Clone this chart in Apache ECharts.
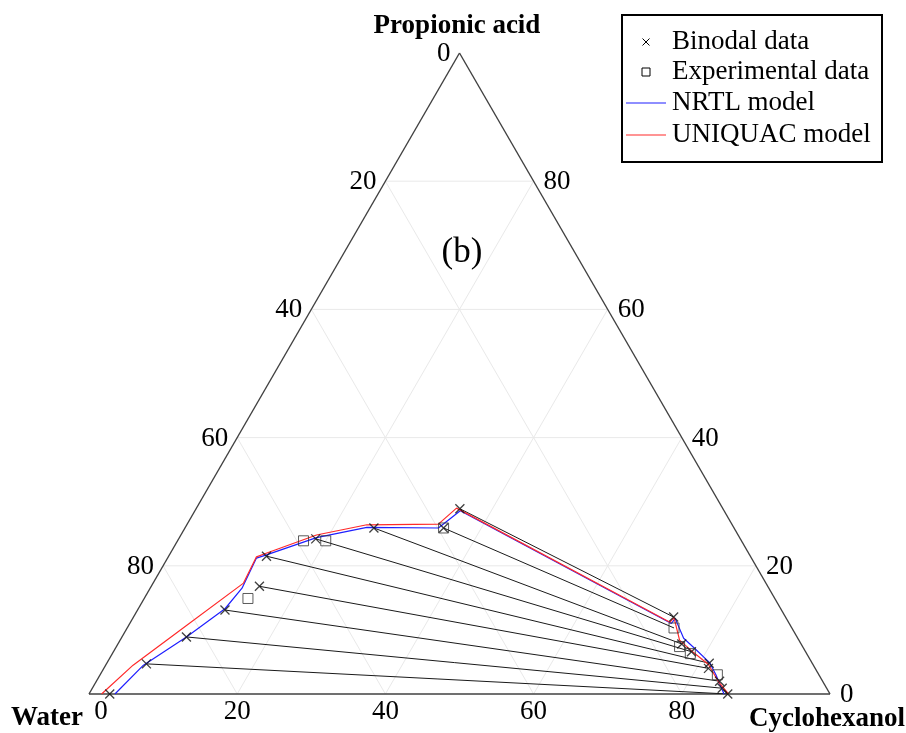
<!DOCTYPE html>
<html>
<head>
<meta charset="utf-8">
<script src="https://cdn.jsdelivr.net/npm/echarts@6/dist/echarts.min.js"></script>
<style>
html,body{margin:0;padding:0;background:#fff;}
#chart{width:906px;height:733px;}
</style>
</head>
<body>
<div id="chart"></div>
<script>
// Compositions in mass %: cyclohexanol, propionic acid (water = 100 - both)
const tickValues = [0, 20, 40, 60, 80];
const gridValues = [20, 40, 60, 80];

const binodalCyclohexanol = [2.8, 5.4, 8.7, 11.8, 14.6, 13.2, 18.5, 25.5, 34.9, 35.6, 72.9, 76.1, 78.0, 81.3, 81.6, 84.1, 85.0, 86.2];
const binodalPropionic    = [0.0, 4.7, 8.9, 13.1, 16.8, 21.5, 24.2, 25.9, 25.9, 28.9, 12.0, 7.8, 6.6, 4.8, 4.0, 2.0, 0.9, 0.0];

const expCyclohexanol = [14.0, 17.0, 20.0, 34.9, 73.8, 76.0, 78.0, 83.3];
const expPropionic    = [14.9, 23.9, 23.9, 25.9, 10.3, 7.4, 6.3, 3.0];

const tieRaffinateCyclohexanol = [35.6, 34.9, 25.5, 18.5, 13.2, 14.6, 11.8, 8.7, 5.4];
const tieRaffinatePropionic    = [28.9, 25.9, 25.9, 24.2, 21.5, 16.8, 13.1, 8.9, 4.7];
const tieExtractCyclohexanol   = [72.9, 73.8, 76.1, 78.0, 81.3, 81.6, 84.1, 85.0, 86.2];
const tieExtractPropionic      = [12.0, 10.3, 7.8, 6.6, 4.8, 4.0, 2.0, 0.9, 0.0];

const nrtlCyclohexanol = [3.5, 5.1, 8.7, 11.7, 12.4, 12.0, 13.1, 18.5, 24.5, 34.2, 35.8, 73.1, 73.2, 75.9, 78.2, 81.3, 83.1, 85.7];
const nrtlPropionic    = [0.0, 4.5, 8.9, 13.3, 16.5, 21.2, 21.7, 24.4, 26.0, 25.9, 28.6, 11.0, 11.8, 8.7, 7.1, 4.9, 3.0, 0.0];

const uniquacCyclohexanol = [1.7, 3.7, 7.3, 12.2, 11.9, 13.0, 18.3, 24.3, 33.9, 35.1, 72.8, 73.0, 75.5, 78.3, 81.3, 84.0, 86.3];
const uniquacPropionic    = [0.0, 4.5, 9.9, 17.3, 21.4, 22.0, 24.8, 26.4, 26.5, 29.0, 11.2, 11.9, 8.4, 6.5, 4.6, 1.9, 0.0];

const seriesNames = ['Binodal data', 'Experimental data', 'NRTL model', 'UNIQUAC model'];
const cornerNames = ['Propionic acid', 'Water', 'Cyclohexanol'];
const panelLabel = '(b)';

// ternary (cyclohexanol, propionic) -> cartesian data coordinates
const S = Math.sqrt(3) / 2;
function toXY(c, p) { return [c + p / 2, p * S]; }
function pairs(cs, ps) { return cs.map((c, i) => toXY(c, ps[i])); }

const FONT = '"Liberation Serif", "Times New Roman", serif';
const CROSS = 'path://M0,0L10,10M10,0L0,10';
const NRTL_COLOR = '#1f1fff';
const UNIQUAC_COLOR = '#ff2a2a';

const chart = echarts.init(document.getElementById('chart'), null, { renderer: 'canvas' });

// tick label items: [axisIndex, value]; 0 = water (left), 1 = propionic (right), 2 = cyclohexanol (bottom)
const tickItems = [];
[0, 1, 2].forEach(a => tickValues.forEach(v => tickItems.push([a, v])));

// legend drawn as graphic (box, symbols, text)
const LEG = { x: 622, y: 15, w: 260, h: 147, iconX: 646, lineX1: 626, lineX2: 666, textX: 672, rows: [42, 72, 103, 135] };
const legendChildren = [
  { type: 'rect', shape: { x: LEG.x, y: LEG.y, width: LEG.w, height: LEG.h },
    style: { fill: '#fff', stroke: '#000', lineWidth: 2 } },
  { type: 'line', shape: { x1: LEG.iconX - 3.5, y1: LEG.rows[0] - 3.5, x2: LEG.iconX + 3.5, y2: LEG.rows[0] + 3.5 }, style: { stroke: '#000', lineWidth: 1 } },
  { type: 'line', shape: { x1: LEG.iconX - 3.5, y1: LEG.rows[0] + 3.5, x2: LEG.iconX + 3.5, y2: LEG.rows[0] - 3.5 }, style: { stroke: '#000', lineWidth: 1 } },
  { type: 'rect', shape: { x: LEG.iconX - 4, y: LEG.rows[1] - 4, width: 8, height: 8 }, style: { fill: 'none', stroke: '#000', lineWidth: 1 } },
  { type: 'line', shape: { x1: LEG.lineX1, y1: LEG.rows[2], x2: LEG.lineX2, y2: LEG.rows[2] }, style: { stroke: NRTL_COLOR, lineWidth: 1.2 } },
  { type: 'line', shape: { x1: LEG.lineX1, y1: LEG.rows[3], x2: LEG.lineX2, y2: LEG.rows[3] }, style: { stroke: UNIQUAC_COLOR, lineWidth: 1.2 } }
];
seriesNames.forEach((n, i) => legendChildren.push({
  type: 'text', x: LEG.textX, y: LEG.rows[i],
  style: { text: n, font: '27px ' + FONT, fill: '#000', align: 'left', verticalAlign: 'middle' }
}));

const option = {
  animation: false,
  backgroundColor: '#fff',
  grid: { left: 89, top: 53, width: 741, height: 641, containLabel: false, outerBoundsMode: 'none' },
  xAxis: { type: 'value', min: 0, max: 100, show: false },
  yAxis: { type: 'value', min: 0, max: 100 * S, show: false },
  graphic: [
    { type: 'group', silent: true, z: 10, children: legendChildren },
    { type: 'text', x: 457, y: 26, silent: true,
      style: { text: cornerNames[0], font: 'bold 27px ' + FONT, fill: '#000', align: 'center', verticalAlign: 'middle' } },
    { type: 'text', x: 47, y: 718, silent: true,
      style: { text: cornerNames[1], font: 'bold 27px ' + FONT, fill: '#000', align: 'center', verticalAlign: 'middle' } },
    { type: 'text', x: 905, y: 719, silent: true,
      style: { text: cornerNames[2], font: 'bold 27px ' + FONT, fill: '#000', align: 'right', verticalAlign: 'middle' } },
    { type: 'text', x: 462, y: 253, silent: true,
      style: { text: panelLabel, font: '35px ' + FONT, fill: '#000', align: 'center', verticalAlign: 'middle' } }
  ],
  series: [
    {
      type: 'custom', name: 'frame', silent: true, z: 1,
      data: [[0]],
      renderItem: function (params, api) {
        const children = [];
        function seg(c1, p1, c2, p2, color, w) {
          const a = api.coord(toXY(c1, p1)), b = api.coord(toXY(c2, p2));
          children.push({ type: 'line', shape: { x1: a[0], y1: a[1], x2: b[0], y2: b[1] },
            style: { stroke: color, lineWidth: w } });
        }
        gridValues.forEach(k => {
          seg(0, k, 100 - k, k, '#e9e9e9', 1);          // propionic = k
          seg(k, 0, k, 100 - k, '#e9e9e9', 1);          // cyclohexanol = k
          seg(100 - k, 0, 0, 100 - k, '#e9e9e9', 1);    // water = k
        });
        seg(0, 0, 100, 0, '#404040', 1.4);
        seg(100, 0, 0, 100, '#404040', 1.4);
        seg(0, 100, 0, 0, '#404040', 1.4);
        return { type: 'group', children: children };
      }
    },
    {
      type: 'custom', name: 'ticks', silent: true, z: 1,
      data: tickItems,
      renderItem: function (params, api) {
        const a = api.value(0), v = api.value(1);
        let pt, x, y, align;
        if (a === 0) { pt = api.coord(toXY(0, 100 - v)); x = pt[0] - 9; y = pt[1] + 1; align = 'right'; }
        else if (a === 1) { pt = api.coord(toXY(100 - v, v)); x = pt[0] + 10; y = pt[1] + 1; align = 'left'; }
        else { pt = api.coord(toXY(v, 0)); x = pt[0] + (v === 0 ? 12 : 0); y = pt[1] + 18; align = 'center'; }
        return { type: 'text', x: x, y: y,
          style: { text: String(v), font: '27px ' + FONT, fill: '#000', align: align, verticalAlign: 'middle' } };
      }
    },
    {
      type: 'lines', name: 'Tie lines', coordinateSystem: 'cartesian2d', silent: true, z: 2,
      polyline: false,
      lineStyle: { color: '#1a1a1a', width: 1, opacity: 1, curveness: 0 },
      data: tieRaffinateCyclohexanol.map((c, i) => ({
        coords: [toXY(c, tieRaffinatePropionic[i]), toXY(tieExtractCyclohexanol[i], tieExtractPropionic[i])]
      }))
    },
    {
      type: 'line', name: seriesNames[2], z: 3, silent: true,
      symbol: 'none', showSymbol: false,
      lineStyle: { color: NRTL_COLOR, width: 1.2 },
      itemStyle: { color: NRTL_COLOR },
      data: pairs(nrtlCyclohexanol, nrtlPropionic)
    },
    {
      type: 'line', name: seriesNames[3], z: 3, silent: true,
      symbol: 'none', showSymbol: false,
      lineStyle: { color: UNIQUAC_COLOR, width: 1.2 },
      itemStyle: { color: UNIQUAC_COLOR },
      data: pairs(uniquacCyclohexanol, uniquacPropionic)
    },
    {
      type: 'scatter', name: seriesNames[0], z: 4, silent: true,
      symbol: CROSS, symbolSize: 9,
      itemStyle: { color: 'rgba(0,0,0,0)', borderColor: '#111', borderWidth: 1.3 },
      data: pairs(binodalCyclohexanol, binodalPropionic)
    },
    {
      type: 'scatter', name: seriesNames[1], z: 4, silent: true,
      symbol: 'rect', symbolSize: 10,
      itemStyle: { color: 'rgba(0,0,0,0)', borderColor: '#333', borderWidth: 1 },
      data: pairs(expCyclohexanol, expPropionic)
    }
  ]
};
chart.setOption(option);
</script>
</body>
</html>
